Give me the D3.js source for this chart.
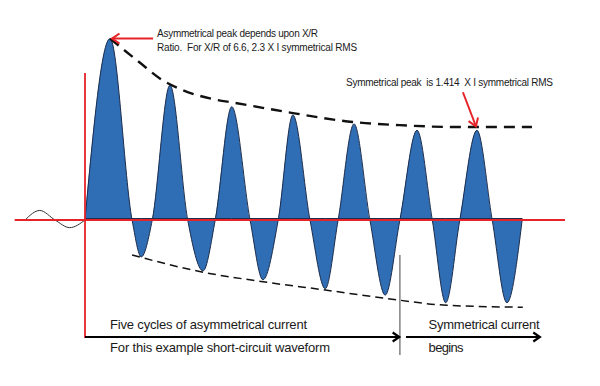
<!DOCTYPE html>
<html lang="en">
<head>
<meta charset="UTF-8">
<title>Asymmetrical short-circuit current waveform</title>
<script src="https://d3js.org/d3.v7.min.js"></script>
<style>
    body { margin: 0; background: #fff; }
    svg { display: block; }
    text { font-family: "Liberation Sans", Arial, sans-serif; fill: #1a1a1a; white-space: pre; }
    .note { font-size: 10px; }
    .phase { font-size: 13px; }
</style>
</head>
<body>
<div id="chart"></div>
<script>
    // time in cycles after the fault, current in multiples of symmetrical RMS
    const zeroCrossings = [0, 0.77, 1.10, 1.68, 2.13, 2.70, 3.16, 3.68, 4.14, 4.66, 5.15, 5.68, 6.13, 6.66, 7.15];
    const extremaT = [0.41, 0.92, 1.39, 1.93, 2.40, 2.91, 3.40, 3.93, 4.40, 4.91, 5.43, 5.90, 6.41, 6.90];
    const extremaI = [2.85, -0.58, 2.12, -0.80, 1.78, -0.94, 1.65, -1.08, 1.51, -1.18, 1.41, -1.30, 1.41, -1.30];

    // load current before the fault
    const prefaultT = [-0.98, -0.74, -0.49, -0.25, 0];
    const prefaultI = [0, 0.15, 0, -0.12, 0];

    // envelopes of the peaks
    const upperEnvT = [0.41, 0.90, 1.23, 1.55, 2.09, 2.45, 2.98, 3.40, 4.38, 5.15, 6.13, 7.31];
    const upperEnvI = [2.85, 2.47, 2.22, 2.06, 1.90, 1.84, 1.75, 1.68, 1.54, 1.49, 1.46, 1.46];
    const lowerEnvT = [0.77, 1.93, 2.91, 3.93, 4.91, 5.92, 7.16];
    const lowerEnvI = [-0.55, -0.82, -0.97, -1.10, -1.23, -1.34, -1.37];

    // phases shown under the waveform
    const phaseStart = [0, 5.25];
    const phaseEnd = [5.14, 7.44];
    const phaseLabelT = [0.41, 5.62];
    const phaseLines = [
        ["Five cycles of asymmetrical current", "For this example short-circuit waveform"],
        ["Symmetrical current", "begins"]
    ];
    const phaseWidths = [[197, 220], [111, 35]];
    const asymNote = ["Asymmetrical peak depends upon X/R", "Ratio.  For X/R of 6.6, 2.3 X I symmetrical RMS"];
    const asymWidths = [161, 200];
    const symNote = "Symmetrical peak  is 1.414  X I symmetrical RMS";

    const width = 600, height = 386;
    const svg = d3.select("#chart").append("svg")
        .attr("width", width)
        .attr("height", height);

    const x = d3.scaleLinear().domain([0, 7]).range([85, 513]);
    const y = d3.scaleLinear().domain([0, 1.414]).range([220, 130]);

    const wave = zeroCrossings.flatMap((t, i) => i < extremaT.length
        ? [[t, 0], [extremaT[i], extremaI[i]]]
        : [[t, 0]]);

    // pre-fault sine
    svg.append("path")
        .datum(d3.zip(prefaultT, prefaultI))
        .attr("fill", "none")
        .attr("stroke", "#333")
        .attr("stroke-width", 1)
        .attr("d", d3.line().x(d => x(d[0])).y(d => y(d[1])).curve(d3.curveMonotoneX));

    // fault current
    svg.append("path")
        .datum(wave)
        .attr("fill", "#2f6db4")
        .attr("stroke", "#1c2d4d")
        .attr("stroke-width", 1)
        .attr("d", d3.area()
            .x(d => x(d[0]))
            .y0(y(0) - 1.5)
            .y1(d => y(d[1]))
            .curve(d3.curveMonotoneX));

    // red reference axes
    svg.append("line")
        .attr("x1", x(-1.15)).attr("x2", x(7.85))
        .attr("y1", y(0)).attr("y2", y(0))
        .attr("stroke", "#e52329").attr("stroke-width", 2);
    svg.append("line")
        .attr("x1", x(0)).attr("x2", x(0))
        .attr("y1", 73).attr("y2", 338)
        .attr("stroke", "#e52329").attr("stroke-width", 1.8);

    // envelopes
    svg.append("path")
        .datum(d3.zip(upperEnvT, upperEnvI))
        .attr("fill", "none")
        .attr("stroke", "#111")
        .attr("stroke-width", 2.4)
        .attr("stroke-dasharray", "11,7")
        .attr("d", d3.line().x(d => x(d[0])).y(d => y(d[1])).curve(d3.curveMonotoneX));
    svg.append("path")
        .datum(d3.zip(lowerEnvT, lowerEnvI))
        .attr("fill", "none")
        .attr("stroke", "#111")
        .attr("stroke-width", 1.5)
        .attr("stroke-dasharray", "8,5")
        .attr("d", d3.line().x(d => x(d[0])).y(d => y(d[1])).curve(d3.curveMonotoneX));

    function arrow(x1, y1, x2, y2, color, w, head) {
        svg.append("line")
            .attr("x1", x1).attr("y1", y1).attr("x2", x2).attr("y2", y2)
            .attr("stroke", color).attr("stroke-width", w);
        const a = Math.atan2(y2 - y1, x2 - x1);
        const p = d3.path();
        p.moveTo(x2 - head * Math.cos(a - 0.6), y2 - head * Math.sin(a - 0.6));
        p.lineTo(x2, y2);
        p.lineTo(x2 - head * Math.cos(a + 0.6), y2 - head * Math.sin(a + 0.6));
        svg.append("path")
            .attr("d", p.toString())
            .attr("fill", "none")
            .attr("stroke", color)
            .attr("stroke-width", w)
            .attr("stroke-linejoin", "miter");
    }

    function label(cls, tx, ty, str, len) {
        svg.append("text").attr("class", cls)
            .attr("x", tx).attr("y", ty)
            .attr("textLength", len)
            .attr("lengthAdjust", "spacing")
            .text(str);
    }

    // phase divider, arrows and labels
    svg.append("line")
        .attr("x1", x(5.15)).attr("x2", x(5.15))
        .attr("y1", 255).attr("y2", 355)
        .attr("stroke", "#808080").attr("stroke-width", 1.5);

    phaseStart.forEach((s, i) => {
        arrow(x(s), 337, x(phaseEnd[i]), 337, "#000", 2.2, 8);
        label("phase", x(phaseLabelT[i]), 329, phaseLines[i][0], phaseWidths[i][0]);
        label("phase", x(phaseLabelT[i]), 352, phaseLines[i][1], phaseWidths[i][1]);
    });

    // annotation of the asymmetrical peak
    const px0 = x(extremaT[0]), py0 = y(extremaI[0]);
    arrow(px0 + 43, py0, px0 + 2, py0, "#e52329", 2, 9);
    asymNote.forEach((t, i) => label("note", px0 + 47, 36.5 + i * 14.5, t, asymWidths[i]));

    // annotation of the symmetrical peak
    const px1 = x(extremaT[12]), py1 = y(extremaI[12]);
    arrow(px1 - 14, py1 - 38, px1 - 1, py1 - 4, "#e52329", 2, 9);
    label("note", 346, 86, symNote, 207);
</script>
</body>
</html>
